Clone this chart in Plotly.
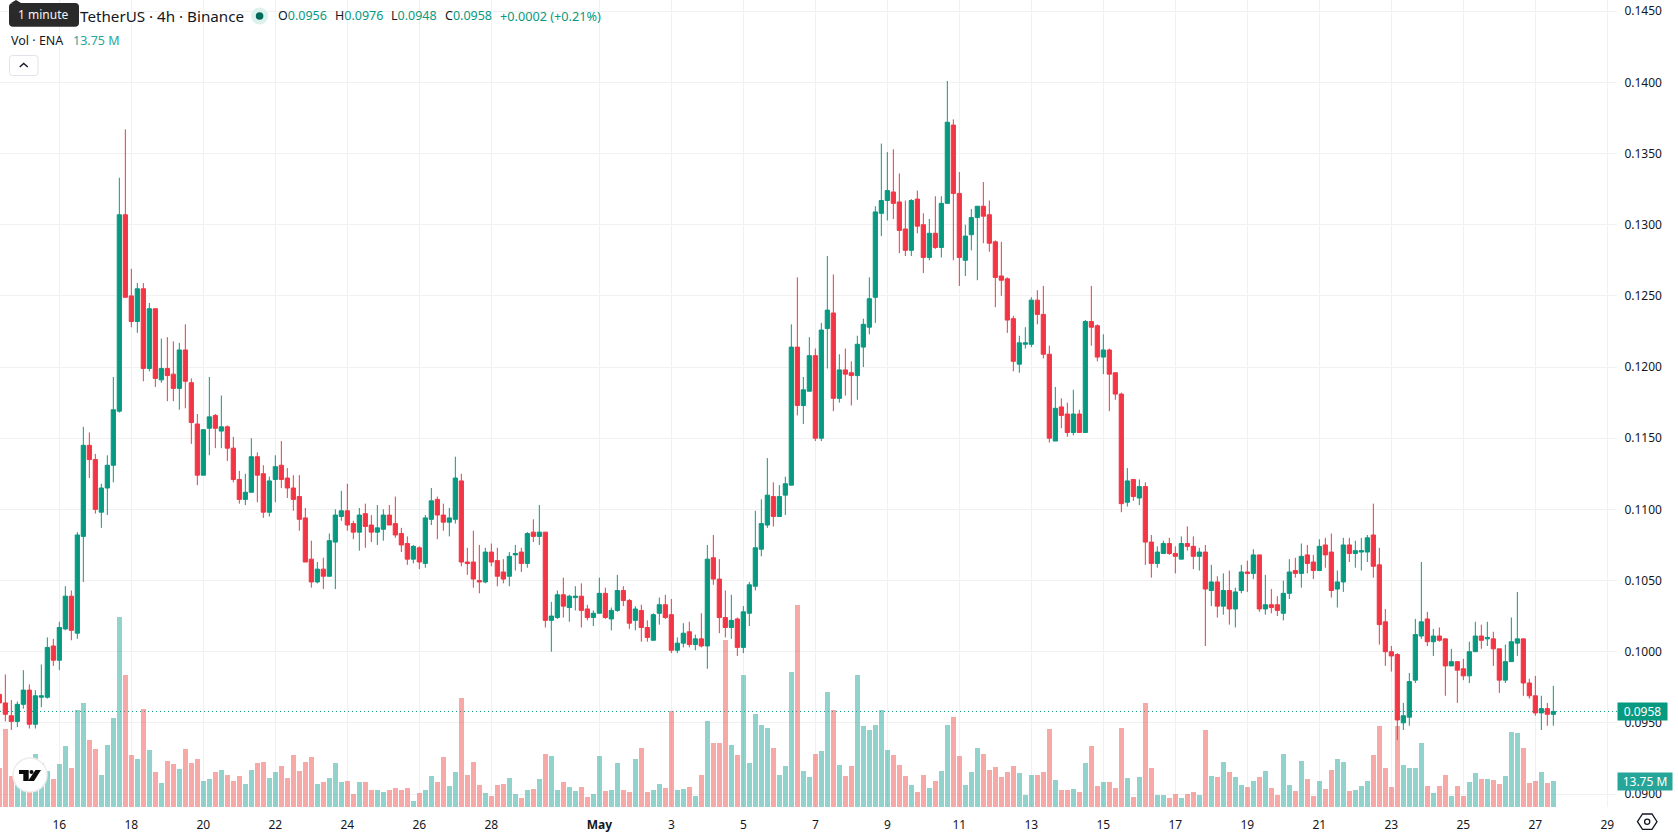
import pandas as pd
import plotly.graph_objects as go

# ENA/USDT 4h candles, oldest first, ten per row
opens = [
    .0970,.0964,.0955,.0951,.0963,.0973,.0949,.0968,.0968,.1004,
    .0994,.1016,.1039,.1013,.1081,.1145,.1135,.1098,.1115,.1131,
    .1169,.1307,.1250,.1232,.1255,.1199,.1241,.1191,.1199,.1195,
    .1185,.1212,.1189,.1160,.1124,.1157,.1166,.1155,.1158,.1143,
    .1121,.1107,.1112,.1137,.1125,.1098,.1121,.1131,.1122,.1115,
    .1109,.1094,.1065,.1049,.1058,.1053,.1077,.1095,.1099,.1090,
    .1084,.1097,.1089,.1084,.1086,.1096,.1090,.1083,.1076,.1065,
    .1073,.1062,.1093,.1107,.1096,.1091,.1093,.1120,.1063,.1063,
    .1050,.1049,.1070,.1064,.1056,.1053,.1068,.1070,.1062,.1084,
    .1081,.1084,.1022,.1024,.1040,.1031,.1038,.1039,.1030,.1024,
    .1027,.1041,.1023,.1029,.1043,.1036,.1022,.1029,.1017,.1008,
    .1027,.1033,.1026,.1001,.1006,.1014,.1005,.1009,.1004,.1066,
    .1051,.1024,.1017,.1023,.1003,.1027,.1046,.1072,.1089,.1109,
    .1095,.1110,.1117,.1214,.1173,.1183,.1208,.1150,.1227,.1238,
    .1178,.1198,.1196,.1194,.1214,.1228,.1249,.1308,.1317,.1323,
    .1316,.1297,.1282,.1318,.1300,.1277,.1294,.1284,.1315,.1370,
    .1322,.1275,.1293,.1305,.1313,.1307,.1288,.1264,.1262,.1234,
    .1202,.1216,.1216,.1247,.1237,.1209,.1148,.1172,.1167,.1154,
    .1167,.1154,.1232,.1229,.1207,.1212,.1196,.1181,.1105,.1121,
    .1108,.1116,.1077,.1062,.1069,.1076,.1069,.1065,.1076,.1074,
    .1067,.1070,.1043,.1049,.1032,.1043,.1030,.1043,.1056,.1055,
    .1068,.1030,.1033,.1033,.1027,.1041,.1057,.1055,.1068,.1063,
    .1057,.1075,.1070,.1044,.1049,.1075,.1069,.1070,.1070,.1082,
    .1061,.1021,.1000,.0998,.0950,.0954,.0980,.1011,.1023,.1007,
    .1011,.1009,.0990,.0993,.0988,.0983,.1000,.1011,.1009,.1009,
    .1002,.0980,.0993,.1006,.1009,.0978,.0969,.0957,.0960,.0956,
]
highs = [
    .0978,.0984,.0966,.0965,.0987,.0977,.0973,.0991,.1010,.1009,
    .1021,.1046,.1043,.1084,.1158,.1154,.1139,.1118,.1138,.1193,
    .1333,.1367,.1269,.1259,.1259,.1245,.1241,.1220,.1221,.1218,
    .1217,.1230,.1192,.1167,.1156,.1193,.1167,.1180,.1159,.1151,
    .1127,.1125,.1150,.1140,.1131,.1123,.1138,.1148,.1129,.1124,
    .1124,.1101,.1078,.1063,.1066,.1083,.1100,.1113,.1118,.1092,
    .1101,.1104,.1096,.1103,.1100,.1103,.1109,.1087,.1081,.1075,
    .1074,.1096,.1115,.1109,.1104,.1101,.1137,.1125,.1073,.1085,
    .1075,.1073,.1076,.1073,.1065,.1070,.1075,.1073,.1084,.1093,
    .1103,.1084,.1035,.1043,.1052,.1040,.1046,.1048,.1033,.1029,
    .1052,.1045,.1031,.1054,.1046,.1037,.1032,.1033,.1022,.1027,
    .1038,.1040,.1037,.1010,.1020,.1021,.1012,.1027,.1075,.1082,
    .1065,.1043,.1040,.1024,.1032,.1049,.1099,.1107,.1136,.1119,
    .1117,.1123,.1230,.1263,.1193,.1221,.1213,.1231,.1278,.1265,
    .1209,.1213,.1204,.1222,.1234,.1263,.1313,.1357,.1351,.1353,
    .1336,.1317,.1318,.1324,.1308,.1304,.1320,.1320,.1401,.1374,
    .1337,.1300,.1311,.1313,.1330,.1317,.1289,.1288,.1263,.1236,
    .1222,.1228,.1249,.1254,.1257,.1215,.1186,.1178,.1175,.1184,
    .1170,.1233,.1257,.1230,.1223,.1213,.1196,.1182,.1129,.1121,
    .1121,.1119,.1082,.1074,.1078,.1080,.1074,.1081,.1088,.1081,
    .1073,.1075,.1061,.1053,.1055,.1057,.1045,.1061,.1064,.1072,
    .1068,.1054,.1044,.1039,.1050,.1065,.1066,.1076,.1075,.1068,
    .1079,.1080,.1083,.1057,.1080,.1080,.1078,.1080,.1082,.1104,
    .1073,.1030,.1004,.0999,.0964,.0985,.1023,.1063,.1028,.1016,
    .1017,.1009,.1002,.0993,.0995,.1007,.1021,.1019,.1021,.1014,
    .1002,.1005,.1024,.1042,.1009,.0981,.0983,.0969,.0964,.0976,
]
lows = [
    .0958,.0951,.0945,.0947,.0960,.0946,.0946,.0961,.0967,.0990,
    .0987,.1015,.1008,.1009,.1049,.1122,.1097,.1087,.1096,.1119,
    .1168,.1249,.1228,.1224,.1190,.1197,.1186,.1189,.1176,.1176,
    .1170,.1171,.1146,.1117,.1124,.1138,.1143,.1143,.1134,.1119,
    .1104,.1103,.1112,.1105,.1094,.1095,.1105,.1115,.1108,.1099,
    .1085,.1063,.1045,.1048,.1044,.1053,.1044,.1092,.1085,.1079,
    .1071,.1073,.1077,.1075,.1078,.1089,.1080,.1070,.1061,.1062,
    .1058,.1059,.1089,.1079,.1085,.1081,.1090,.1060,.1054,.1045,
    .1041,.1048,.1060,.1046,.1048,.1046,.1057,.1056,.1059,.1077,
    .1075,.1017,.1000,.1023,.1024,.1021,.1029,.1017,.1022,.1018,
    .1027,.1023,.1015,.1028,.1032,.1016,.1015,.1007,.1007,.1008,
    .1019,.1023,.0999,.0999,.1003,.1003,.1001,.1003,.0988,.1047,
    .1013,.1010,.1009,.0997,.0999,.1018,.1043,.1067,.1087,.1088,
    .1095,.1096,.1117,.1166,.1160,.1183,.1148,.1148,.1199,.1169,
    .1175,.1180,.1173,.1177,.1200,.1223,.1231,.1292,.1303,.1304,
    .1280,.1278,.1278,.1294,.1266,.1275,.1283,.1277,.1315,.1275,
    .1257,.1264,.1282,.1261,.1287,.1281,.1242,.1250,.1224,.1197,
    .1196,.1213,.1214,.1230,.1206,.1147,.1148,.1157,.1151,.1152,
    .1154,.1154,.1215,.1204,.1195,.1169,.1177,.1098,.1102,.1106,
    .1103,.1061,.1052,.1059,.1069,.1068,.1055,.1065,.1071,.1058,
    .1057,.1004,.1032,.1024,.1026,.1019,.1017,.1041,.1042,.1051,
    .1028,.1026,.1027,.1025,.1022,.1037,.1052,.1045,.1055,.1051,
    .1057,.1059,.1038,.1031,.1042,.1063,.1059,.1057,.1063,.1052,
    .1005,.0990,.0986,.0938,.0945,.0948,.0978,.1009,.1004,.0997,
    .1007,.0969,.0990,.0964,.0980,.0978,.1000,.1002,.1004,.0990,
    .0971,.0978,.0993,.0997,.0969,.0967,.0955,.0945,.0948,.0948,
]
closes = [
    .0964,.0956,.0951,.0963,.0973,.0949,.0969,.0969,.1003,.0994,
    .1017,.1039,.1015,.1082,.1145,.1135,.1100,.1115,.1131,.1170,
    .1307,.1249,.1232,.1255,.1199,.1241,.1192,.1199,.1194,.1185,
    .1212,.1190,.1161,.1124,.1156,.1165,.1157,.1158,.1143,.1121,
    .1107,.1112,.1137,.1124,.1098,.1120,.1130,.1121,.1115,.1107,
    .1093,.1063,.1049,.1058,.1053,.1078,.1096,.1099,.1089,.1084,
    .1096,.1088,.1084,.1087,.1096,.1089,.1082,.1075,.1065,.1074,
    .1063,.1094,.1106,.1096,.1091,.1094,.1122,.1063,.1062,.1051,
    .1049,.1070,.1063,.1053,.1051,.1067,.1069,.1062,.1083,.1081,
    .1084,.1022,.1025,.1040,.1032,.1039,.1039,.1029,.1024,.1027,
    .1041,.1024,.1029,.1043,.1036,.1020,.1030,.1017,.1010,.1026,
    .1033,.1024,.1001,.1006,.1013,.1005,.1009,.1004,.1065,.1051,
    .1024,.1017,.1022,.1003,.1028,.1047,.1073,.1090,.1110,.1095,
    .1109,.1118,.1214,.1173,.1184,.1208,.1150,.1226,.1240,.1178,
    .1198,.1195,.1194,.1216,.1230,.1248,.1309,.1317,.1324,.1315,
    .1296,.1282,.1317,.1299,.1277,.1294,.1284,.1315,.1372,.1322,
    .1277,.1292,.1305,.1313,.1306,.1287,.1263,.1261,.1233,.1204,
    .1217,.1217,.1247,.1237,.1209,.1150,.1171,.1166,.1154,.1167,
    .1154,.1232,.1228,.1207,.1212,.1195,.1181,.1104,.1120,.1109,
    .1116,.1077,.1062,.1070,.1076,.1069,.1067,.1076,.1074,.1067,
    .1070,.1044,.1049,.1032,.1043,.1030,.1042,.1056,.1055,.1068,
    .1030,.1033,.1031,.1029,.1041,.1056,.1055,.1067,.1062,.1057,
    .1074,.1068,.1043,.1049,.1075,.1069,.1071,.1071,.1080,.1060,
    .1019,.1000,.0997,.0952,.0955,.0979,.1012,.1021,.1007,.1011,
    .1008,.0990,.0993,.0987,.0983,.1000,.1011,.1008,.1010,.1002,
    .0980,.0993,.1007,.1009,.0978,.0969,.0957,.0960,.0956,.0958,
]
# Traded volume per candle, in millions of ENA
volumes = [
    20.5,41.1,16.2,15.9,18.5,12.3,27.9,23.1,18.9,14.6,
    22.6,32.1,20.5,51.1,54.8,35.3,30.5,16.7,32.6,46.9,
    100.3,69.6,27.3,25.2,51.7,30.0,18.3,12.5,24.2,22.6,
    19.9,30.5,23.1,25.2,13.6,14.6,18.3,19.4,16.7,13.6,
    16.2,12.0,19.4,23.1,23.6,15.2,18.3,21.5,15.2,27.3,
    18.9,23.6,26.3,12.0,13.0,15.2,23.1,13.0,13.6,6.7,
    13.0,13.0,8.8,8.8,7.8,8.8,9.9,8.8,9.9,3.0,
    7.2,8.8,16.2,13.0,26.3,10.9,18.3,57.5,16.7,23.6,
    11.5,7.2,5.6,11.5,12.0,15.2,6.7,4.6,8.8,9.3,
    14.6,27.9,26.8,8.8,13.0,10.4,8.3,10.4,5.1,6.7,
    26.8,8.3,8.8,23.1,8.8,7.8,25.2,31.0,7.8,8.8,
    12.0,9.9,50.6,8.8,9.3,10.4,5.6,16.7,45.3,33.7,
    33.7,88.2,32.6,27.3,69.6,23.1,49.0,43.2,41.6,31.0,
    16.7,21.5,71.2,106.7,18.9,15.7,27.9,29.6,60.8,51.3,
    22.2,16.4,21.7,69.8,42.8,40.7,43.4,51.3,30.1,27.5,
    22.2,16.4,11.6,7.9,16.9,10.0,13.8,19.0,43.4,47.6,
    27.0,11.6,18.5,31.2,28.0,19.6,21.2,15.9,18.5,21.7,
    18.0,6.3,16.9,16.9,18.5,41.3,14.3,9.0,9.0,9.5,
    7.9,23.3,32.3,11.1,13.2,13.2,10.0,41.8,15.3,5.3,
    15.9,55.0,20.6,6.3,6.3,4.8,6.9,4.8,6.9,7.9,
    6.3,40.7,16.4,15.9,23.8,18.5,15.9,11.6,10.6,13.8,
    15.9,19.0,10.0,6.3,28.0,11.6,8.5,24.3,14.8,5.8,
    13.8,9.5,19.6,25.4,23.8,8.5,9.0,11.1,13.8,27.5,
    42.8,20.6,10.6,42.8,22.2,20.6,20.6,33.9,11.1,7.4,
    11.1,16.9,5.8,11.1,5.8,13.2,18.0,14.8,14.8,14.3,
    12.2,16.4,39.7,39.1,31.2,12.7,13.8,18.5,12.7,13.75,
]
first_candle = "2026-04-14 08:00"
tick_dates = ["2026-04-16", "2026-04-18", "2026-04-20", "2026-04-22", "2026-04-24",
              "2026-04-26", "2026-04-28", "2026-05-01", "2026-05-03", "2026-05-05",
              "2026-05-07", "2026-05-09", "2026-05-11", "2026-05-13", "2026-05-15",
              "2026-05-17", "2026-05-19", "2026-05-21", "2026-05-23", "2026-05-25",
              "2026-05-27", "2026-05-29"]
tick_labels = ["16", "18", "20", "22", "24", "26", "28", "<b>May</b>", "3", "5", "7", "9",
               "11", "13", "15", "17", "19", "21", "23", "25", "27", "29"]
last_price = 0.0958
last_volume = 13.75

W, H = 1678, 835
PLOT_W, PLOT_H = 1617, 807
FONT = "Noto Sans"
UP, DOWN = "#089981", "#F23645"
VOL_UP, VOL_DOWN = "#26A69A", "#EF5350"
INK = "#131722"

times = pd.date_range(first_candle, periods=len(opens), freq="4h")
four_hours = pd.Timedelta(hours=4)
vol_colors = [
    "rgba(38,166,154,0.5)" if c >= o else "rgba(239,83,80,0.5)"
    for o, c in zip(opens, closes)
]


def px(x, y):
    """Convert page pixels to paper fractions of the plot area."""
    return x / PLOT_W, 1 - y / PLOT_H


def rect_path(x0, y0, x1, y1, r):
    pts = {
        "a": px(x0 + r, y0), "b": px(x1 - r, y0), "c": px(x1, y0), "d": px(x1, y0 + r),
        "e": px(x1, y1 - r), "f": px(x1, y1), "g": px(x1 - r, y1), "h": px(x0 + r, y1),
        "i": px(x0, y1), "j": px(x0, y1 - r), "k": px(x0, y0 + r), "l": px(x0, y0),
    }
    s = lambda p: f"{p[0]:.6f},{p[1]:.6f}"
    return (f"M{s(pts['a'])} L{s(pts['b'])} Q{s(pts['c'])} {s(pts['d'])} L{s(pts['e'])} "
            f"Q{s(pts['f'])} {s(pts['g'])} L{s(pts['h'])} Q{s(pts['i'])} {s(pts['j'])} "
            f"L{s(pts['k'])} Q{s(pts['l'])} {s(pts['a'])} Z")


def poly_path(points):
    coords = [px(x, y) for x, y in points]
    return "M" + " L".join(f"{a:.6f},{b:.6f}" for a, b in coords)


def paper_shape(path, fill="rgba(0,0,0,0)", line="rgba(0,0,0,0)", width=1):
    return dict(type="path", path=path, xref="paper", yref="paper", layer="above",
                fillcolor=fill, line=dict(color=line, width=width))


def circle(cx, cy, r, fill, line="rgba(0,0,0,0)", width=0):
    x0, y0 = px(cx - r, cy - r)
    x1, y1 = px(cx + r, cy + r)
    return dict(type="circle", xref="paper", yref="paper", layer="above",
                x0=x0, x1=x1, y0=y0, y1=y1, fillcolor=fill,
                line=dict(color=line, width=width))


def label(x, y, text, color=INK, size=13, anchor="left"):
    xp, yp = px(x, y)
    return dict(xref="paper", yref="paper", x=xp, y=yp, text=text, showarrow=False,
                xanchor=anchor, yanchor="middle",
                font=dict(family=FONT, size=size, color=color))


fig = go.Figure()
fig.add_bar(x=times, y=volumes, marker=dict(color=vol_colors, line_width=0),
            width=four_hours.total_seconds() * 1000 * 5.5 / 6, yaxis="y", hoverinfo="skip")
fig.add_candlestick(
    x=times, open=opens, high=highs, low=lows, close=closes, yaxis="y2",
    increasing=dict(line=dict(color=UP, width=1), fillcolor=UP),
    decreasing=dict(line=dict(color=DOWN, width=1), fillcolor=DOWN),
    whiskerwidth=0,
)

shapes = [
    # Last-price line
    dict(type="line", xref="paper", yref="y2", x0=0, x1=1, y0=last_price, y1=last_price,
         layer="below", line=dict(color=UP, width=1, dash="1px,3px")),
    # Interval tooltip
    paper_shape(rect_path(9, 3, 79, 26.7, 4), fill="#2A2A2A"),
    paper_shape(poly_path([(11, 3), (16, 0), (21, 3)]) + " Z", fill="#2A2A2A"),
    # Legend status dot
    circle(259.6, 16, 8.6, "#DDF1ED"),
    circle(259.6, 16, 3.8, "#006B5B"),
    # Collapse button
    paper_shape(rect_path(9.5, 55.5, 38, 75.5, 3), fill="#FFFFFF", line="#E0E3EB"),
    paper_shape(poly_path([(19.7, 67), (23.7, 63.5), (27.8, 67)]), line="#131722", width=1.4),
    # Logo badge
    circle(30, 775, 17, "#FFFFFF", "#ECECEC", 1.5),
    paper_shape(poly_path([(19, 770), (28.7, 770), (28.7, 781), (23.3, 781), (23.3, 774), (19, 774)]) + " Z",
                fill="#0B0B0B"),
    circle(31.5, 772, 2, "#0B0B0B"),
    paper_shape(poly_path([(35.5, 770), (41, 770), (34, 781), (28, 781)]) + " Z", fill="#0B0B0B"),
    # Settings button
    paper_shape(poly_path([(1637.5, 821.7), (1642.5, 814), (1652, 814), (1657, 821.7),
                           (1652, 829.3), (1642.5, 829.3)]) + " Z", line="#131722", width=1.3),
    circle(1647.2, 821.7, 2.6, "rgba(0,0,0,0)", "#131722", 1.3),
]

annotations = [
    label(43, 15, "1 minute", color="#F5F5F5", size=12, anchor="center"),
    label(77.5, 16, "TetherUS · 4h · Binance", size=15.2),
    label(275.5, 16, f'O<span style="color:{UP}">0.0956</span>', size=12.5),
    label(332.5, 16, f'H<span style="color:{UP}">0.0976</span>', size=12.5),
    label(389, 16, f'L<span style="color:{UP}">0.0948</span>', size=12.5),
    label(443, 16, f'C<span style="color:{UP}">0.0958</span>', size=12.5),
    label(497.5, 16, "+0.0002 (+0.21%)", color=UP, size=12.7),
    label(8.5, 40.5, "Vol · ENA", size=12.5),
    label(71, 40.5, f"{last_volume} M", color=VOL_UP, size=12.5),
    # Current-value tags on the price scale
    dict(xref="paper", yref="y2", x=1, y=last_price, text=f"{last_price:.4f}", showarrow=False,
         xanchor="left", yanchor="middle", bgcolor=UP, width=49, height=17, align="center",
         borderpad=0, font=dict(family=FONT, size=12, color="#FFFFFF")),
    dict(xref="paper", yref="y", x=1, y=last_volume, text=f"{last_volume} M", showarrow=False,
         xanchor="left", yanchor="middle", bgcolor=VOL_UP, width=54, height=17, align="center",
         borderpad=0, font=dict(family=FONT, size=12, color="#FFFFFF")),
]

fig.update_layout(
    width=W, height=H, margin=dict(l=0, r=W - PLOT_W, t=0, b=H - PLOT_H),
    paper_bgcolor="#FFFFFF", plot_bgcolor="#FFFFFF", showlegend=False,
    font=dict(family=FONT, size=12, color=INK),
    boxgap=0.3, boxgroupgap=0, bargap=0, hovermode=False,
    shapes=shapes, annotations=annotations,
    xaxis=dict(
        type="date", range=[pd.Timestamp("2026-04-16") - four_hours * (59.33 / 6),
                            pd.Timestamp("2026-04-16") + four_hours * ((PLOT_W - 59.33) / 6)],
        tickmode="array", tickvals=tick_dates, ticktext=tick_labels,
        showgrid=True, gridcolor="#F1F1F1", gridwidth=1, zeroline=False, showline=False,
        ticks="outside", ticklen=7, tickcolor="rgba(0,0,0,0)", rangeslider=dict(visible=False),
        tickfont=dict(family=FONT, size=12, color=INK), tickangle=0,
    ),
    yaxis=dict(range=[0, PLOT_H * last_volume / 26], showgrid=False, zeroline=False,
               showticklabels=False, ticks="", showline=False, fixedrange=True),
    yaxis2=dict(overlaying="y", side="right", anchor="x",
                range=[0.09 - 13 / 14232, 0.09 + 794 / 14232],
                tick0=0.09, dtick=0.005, tickformat=".4f",
                showgrid=True, gridcolor="#F1F1F1", gridwidth=1, zeroline=False, showline=False,
                ticks="outside", ticklen=4, tickcolor="rgba(0,0,0,0)",
                tickfont=dict(family=FONT, size=12, color=INK)),
)

fig.write_html("out.html", config=dict(displayModeBar=False))
